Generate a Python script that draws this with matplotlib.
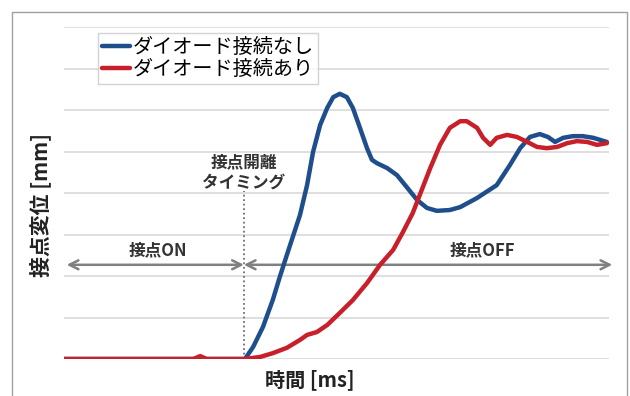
import matplotlib
matplotlib.use("Agg")
import matplotlib.pyplot as plt
from matplotlib.patches import Rectangle

plt.rcParams['font.family'] = ['Noto Sans CJK JP', 'DejaVu Sans']

# Time (arbitrary units, 0-100) and displacement (gridline units)
t_blue = [0, 33.2, 34.7, 36.5, 38.3, 39.6, 40.9, 43.3, 44.6, 45.7, 47.0, 48.3, 49.4,
          50.6, 51.9, 53.0, 54.3, 55.6, 56.5, 57.4, 59.3, 61.1, 62.9, 64.8, 66.6,
          68.4, 70.8, 72.7, 75.8, 79.4, 81.8, 83.7, 85.5, 87.3, 88.8, 90.1, 91.6,
          93.4, 95.2, 97.1, 99.6]
v_blue = [0, 0, 0.29, 0.77, 1.42, 1.98, 2.51, 3.47, 4.19, 4.99, 5.64, 6.05, 6.31,
          6.39, 6.31, 6.05, 5.57, 5.08, 4.80, 4.72, 4.60, 4.43, 4.14, 3.83, 3.64,
          3.57, 3.59, 3.66, 3.88, 4.19, 4.67, 5.08, 5.35, 5.42, 5.35, 5.23, 5.33,
          5.37, 5.37, 5.33, 5.23]

t_red = [0, 23.7, 25.0, 26.2, 33.2, 36.0, 38.3, 40.9, 43.3, 44.6, 46.4, 48.3, 50.6,
         53.0, 55.6, 58.0, 60.4, 62.2, 64.0, 67.2, 69.0, 70.8, 72.7, 73.9, 75.8,
         76.9, 78.2, 79.4, 81.3, 83.1, 85.0, 86.8, 88.6, 90.5, 92.3, 94.1, 96.0,
         97.8, 99.6]
v_red = [0, 0, 0.07, 0, 0, 0.05, 0.14, 0.27, 0.46, 0.58, 0.65, 0.82, 1.11,
         1.42, 1.83, 2.27, 2.63, 3.06, 3.52, 4.60, 5.16, 5.57, 5.73, 5.73, 5.57,
         5.33, 5.16, 5.33, 5.40, 5.35, 5.23, 5.11, 5.08, 5.11, 5.20, 5.25, 5.23,
         5.16, 5.20]

series_labels = ['ダイオード接続なし', 'ダイオード接続あり']
t_open = 33.0
arrow_level = 2.27

W, H = 630, 396
fig = plt.figure(figsize=(W / 100, H / 100), dpi=100)
fig.patches.append(Rectangle((12 / W, -0.05), (627 - 12) / W, 1.05 - 12 / H,
                             transform=fig.transFigure, fill=False,
                             edgecolor='#a0a0a0', linewidth=1.0))
ax = fig.add_axes([64 / W, (H - 359) / H, (609 - 64) / W, (359 - 27) / H])
ax.set_xlim(0, 100)
ax.set_ylim(0, 8)
for s in ax.spines.values():
    s.set_visible(False)
ax.set_xticks([])
ax.set_yticks(range(0, 9))
ax.tick_params(axis='y', length=0, labelleft=False)
ax.yaxis.grid(True, color='#d9d9d9', linewidth=1.2)
ax.set_axisbelow(True)

ax.plot(t_blue, v_blue, color='#1f4e8c', lw=3.2, solid_joinstyle='round',
        solid_capstyle='round', label=series_labels[0], zorder=3)
ax.plot(t_red, v_red, color='#c8202a', lw=3.2, solid_joinstyle='round',
        solid_capstyle='round', label=series_labels[1], zorder=4)

# dotted opening timing line
ax.plot([t_open, t_open], [0, 4.05], color='#707070', lw=1.3, ls=(0, (1, 1.5)), zorder=2)

arrow_kw = dict(arrowstyle='<->', color='#808080', lw=1.8, mutation_scale=16,
                shrinkA=0, shrinkB=0)
ax.annotate('', xy=(0.5, arrow_level), xytext=(t_open, arrow_level),
            arrowprops=arrow_kw, annotation_clip=False, zorder=2)
ax.annotate('', xy=(t_open, arrow_level), xytext=(100.6, arrow_level),
            arrowprops=arrow_kw, annotation_clip=False, zorder=2)

ax.text(17.2, 2.63, '接点ON', ha='center', va='center', fontsize=12,
        fontweight='bold', color='#333333')
ax.text(76.7, 2.63, '接点OFF', ha='center', va='center', fontsize=12,
        fontweight='bold', color='#333333')
ax.text(t_open, 4.5, '接点開離\nタイミング', ha='center', va='center', fontsize=12,
        fontweight='bold', color='#333333', linespacing=1.15)

leg = ax.legend(loc='upper left', bbox_to_anchor=(34 / 545, 1 - 6 / 332),
                fontsize=14.5, frameon=True, fancybox=False, handlelength=1.4,
                handletextpad=0.15, borderpad=0.2, labelspacing=0.05,
                borderaxespad=0)
leg.get_frame().set_edgecolor('#c8c8c8')
leg.get_frame().set_linewidth(1.0)
for line in leg.get_lines():
    line.set_linewidth(3.2)

fig.text(40 / W, 1 - 205 / H, '接点変位 [mm]', rotation=90, ha='center', va='center',
         fontsize=15, fontweight='bold', color='#222222')
fig.text(310 / W, 1 - 380 / H, '時間 [ms]', ha='center', va='center',
         fontsize=14.5, fontweight='bold', color='#222222')

fig.savefig('out.png', dpi=100)
